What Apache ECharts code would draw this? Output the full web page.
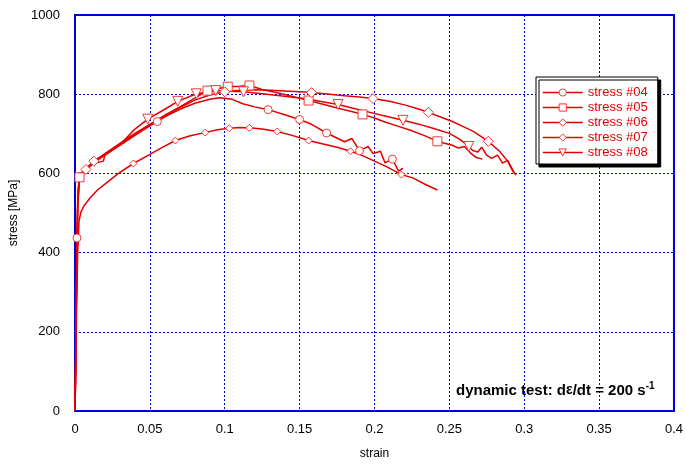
<!DOCTYPE html>
<html><head><meta charset="utf-8">
<script src="https://cdn.jsdelivr.net/npm/echarts@6/dist/echarts.min.js"></script>
<style>html,body{margin:0;padding:0;background:#fff}#c{width:686px;height:465px}</style>
</head><body><div id="c"></div>
<script>
// ---- data (strain, stress [MPa]) ----
var xTickLabels = ['0','0.05','0.1','0.15','0.2','0.25','0.3','0.35','0.4'];
var yTickLabels = ['0','200','400','600','800','1000'];
var seriesNames = ['stress #04','stress #05','stress #06','stress #07','stress #08'];

var curve04 = [[0,0],[0.0006,180],[0.0013,437],[0.002,560],[0.003,592],[0.005,605],[0.008,615],[0.012,627],[0.02,647],[0.03,671],[0.04,696],[0.05,720],[0.055,731],[0.06,743],[0.07,762],[0.08,777],[0.09,787],[0.0965,791],[0.105,787],[0.112,776],[0.12,768],[0.129,761],[0.14,748],[0.15,736],[0.158,724],[0.168,702],[0.18,680],[0.185,688],[0.19,657],[0.1957,668],[0.199,650],[0.204,656],[0.207,627],[0.212,636],[0.216,606],[0.219,613]];
var marks04 = [2,4,12,21,23,25,28,33];

var curve05 = [[0,0],[0.0005,120],[0.001,320],[0.0018,520],[0.003,590],[0.005,598],[0.008,610],[0.012,625],[0.019,631],[0.02,648],[0.03,673],[0.04,699],[0.05,723],[0.06,747],[0.07,768],[0.08,790],[0.0885,809],[0.095,814],[0.102,819],[0.11,820],[0.1165,822],[0.125,812],[0.132,806],[0.14,799],[0.148,792],[0.156,784],[0.165,775],[0.175,765],[0.184,757],[0.192,749],[0.2,740],[0.206,731],[0.215,720],[0.224,709],[0.233,696],[0.242,681],[0.248,675],[0.252,671],[0.256,664],[0.26,668],[0.264,652],[0.268,640],[0.272,636]];
var marks05 = [4,16,18,20,25,29,35];

var curve06 = [[0,0],[0.0005,100],[0.001,250],[0.0018,400],[0.0027,480],[0.004,503],[0.006,518],[0.01,538],[0.015,558],[0.02,573],[0.029,600],[0.039,625],[0.05,648],[0.058,665],[0.067,683],[0.077,695],[0.087,703],[0.095,710],[0.103,714],[0.11,716],[0.1165,715],[0.125,712],[0.135,706],[0.145,696],[0.156,683],[0.165,675],[0.175,666],[0.184,656],[0.192,645],[0.2,631],[0.208,617],[0.218,597],[0.226,588],[0.234,572],[0.242,558]];
var marks06 = [11,14,16,18,20,22,24,27,31];

var curve07 = [[0,0],[0.0005,140],[0.001,330],[0.0018,530],[0.003,590],[0.005,603],[0.0073,610],[0.0126,631],[0.02,650],[0.03,676],[0.04,701],[0.05,724],[0.06,746],[0.07,766],[0.08,785],[0.09,798],[0.1,806],[0.11,810],[0.12,811],[0.13,810],[0.14,808],[0.15,806],[0.158,804],[0.17,800],[0.18,796],[0.19,793],[0.199,789],[0.21,782],[0.22,773],[0.23,762],[0.236,754],[0.245,741],[0.252,731],[0.26,717],[0.266,706],[0.276,681],[0.2835,656],[0.289,631],[0.292,608],[0.2945,596]];
var marks07 = [6,7,16,22,26,30,35];

var curve08 = [[0,0],[0.0005,130],[0.001,310],[0.0018,510],[0.003,588],[0.005,600],[0.008,612],[0.0126,628],[0.02,646],[0.03,672],[0.04,712],[0.0486,737],[0.06,762],[0.0686,782],[0.081,801],[0.094,809],[0.1125,806],[0.125,801],[0.14,795],[0.155,788],[0.1757,774],[0.185,765],[0.195,756],[0.207,745],[0.219,734],[0.229,725],[0.239,714],[0.25,701],[0.257,686],[0.263,668],[0.2656,658],[0.2689,654],[0.2716,666],[0.2749,646],[0.2782,638],[0.2822,646],[0.2855,626],[0.2889,633],[0.2935,600]];
var marks08 = [11,13,14,15,16,20,24,29];

var curves = [curve04, curve05, curve06, curve07, curve08];
var marks = [marks04, marks05, marks06, marks07, marks08];
var symbols = ['circle','rect','diamond','diamond','triangle'];
var symbolSizes = [8,9,7,10,10];
var symbolRotates = [0,0,0,0,180];

var RED = '#e30000';
var MARK = '#ef3a3a';
var BLUE = '#0000d8';
var FONT = '"Liberation Sans", Arial, sans-serif';

var chart = echarts.init(document.getElementById('c'), null, {renderer:'canvas'});

var series = curves.map(function(c, i){
  var mk = marks[i];
  return {
    name: seriesNames[i],
    type: 'line',
    symbol: symbols[i],
    symbolSize: symbolSizes[i],
    symbolRotate: symbolRotates[i],
    showAllSymbol: true,
    animation: false,
    lineStyle: {color: RED, width: 1.5},
    itemStyle: {color: '#fff', borderColor: MARK, borderWidth: 1},
    z: 3,
    data: c.map(function(p, j){
      return mk.indexOf(j) >= 0 ? {value: p} : {value: p, symbol: 'none'};
    })
  };
});

chart.setOption({
  animation: false,
  grid: {left: 74, top: 15, right: 11, bottom: 51, show: true, borderColor: BLUE, borderWidth: 2, backgroundColor: 'transparent'},
  xAxis: {
    type: 'value', min: 0, max: 0.4, interval: 0.05,
    name: 'strain', nameLocation: 'middle', nameGap: 37,
    nameTextStyle: {fontFamily: FONT, fontSize: 12, color: '#000'},
    axisLine: {show: true, lineStyle: {color: BLUE, width: 2}},
    axisTick: {show: false},
    axisLabel: {margin: 12, fontFamily: FONT, fontSize: 13, color: '#000',
      formatter: function(v){ return xTickLabels[Math.round(v/0.05)]; }},
    splitLine: {show: true, lineStyle: {color: BLUE, width: 1, type: [2,2]}}
  },
  yAxis: {
    type: 'value', min: 0, max: 1000, interval: 200,
    name: 'stress [MPa]', nameLocation: 'middle', nameGap: 55,
    nameTextStyle: {fontFamily: FONT, fontSize: 12, color: '#000'},
    axisLine: {show: true, lineStyle: {color: BLUE, width: 2}},
    axisTick: {show: false},
    axisLabel: {margin: 15, fontFamily: FONT, fontSize: 13, color: '#000',
      formatter: function(v){ return yTickLabels[Math.round(v/200)]; }},
    splitLine: {show: true, lineStyle: {color: BLUE, width: 1, type: [2,2]}}
  },
  legend: {
    orient: 'vertical', left: 536, top: 77,
    padding: [9, 10, 5, 6], itemGap: 2, itemWidth: 40, itemHeight: 9,
    backgroundColor: '#fff', borderColor: '#000', borderWidth: 1,
    shadowColor: '#000', shadowBlur: 0, shadowOffsetX: 3, shadowOffsetY: 3,
    itemStyle: {borderWidth: 1},
    lineStyle: {width: 1.5},
    textStyle: {color: RED, fontFamily: FONT, fontSize: 13, lineHeight: 13},
    data: seriesNames
  },
  graphic: [{
    type: 'text', left: 456, top: 381, z: 10,
    style: {
      text: '{b|dynamic test: d}{e|ε}{b|/dt = 200 s}{s|-1}',
      rich: {
        b: {fontFamily: FONT, fontWeight: 'bold', fontSize: 15, fill: '#000', lineHeight: 19},
        e: {fontFamily: FONT, fontWeight: 'bold', fontSize: 14, fill: '#000', lineHeight: 19},
        s: {fontFamily: FONT, fontWeight: 'bold', fontSize: 10, fill: '#000', verticalAlign: 'top', lineHeight: 19, padding: [0,0,9,0]}
      }
    }
  }],
  series: series
});
</script>
</body></html>
